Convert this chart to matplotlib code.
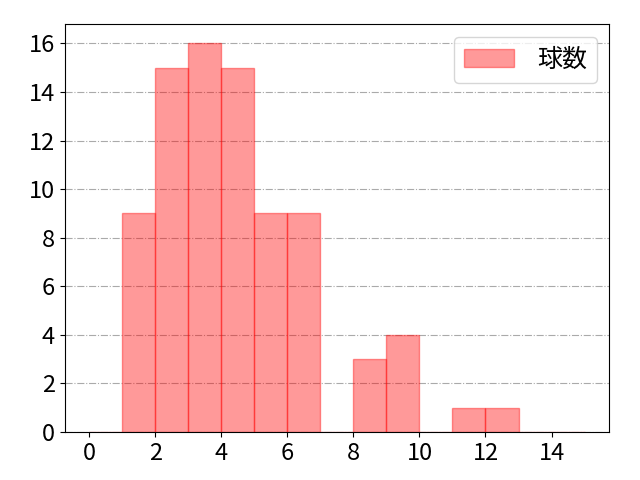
import matplotlib
matplotlib.use("Agg")
import matplotlib.pyplot as plt
import numpy as np

plt.rcParams["font.family"] = ["Noto Sans CJK JP", "DejaVu Sans"]

bin_edges = np.arange(0, 16)
counts = [0, 9, 15, 16, 15, 9, 9, 0, 3, 4, 0, 1, 1, 0, 0]
label = "球数"

fig, ax = plt.subplots(figsize=(6.4, 4.8), dpi=100)
fig.subplots_adjust(left=0.101, right=0.952, bottom=0.10, top=0.95)
ax.hist(bin_edges[:-1], bins=bin_edges, weights=counts, facecolor=(1, 0, 0, 0.4),
        edgecolor=(1, 0, 0, 0.4), linewidth=1, label=label)
ax.grid(axis="y", linestyle="-.", color="#aaaaaa", linewidth=0.8)
ax.set_axisbelow(True)
ax.set_xticks(np.arange(0, 16, 2))
ax.set_yticks(np.arange(0, 17, 2))
ax.tick_params(labelsize=17)
ax.legend(fontsize=18, loc="upper right", handletextpad=0.9)
fig.savefig("out.png")
